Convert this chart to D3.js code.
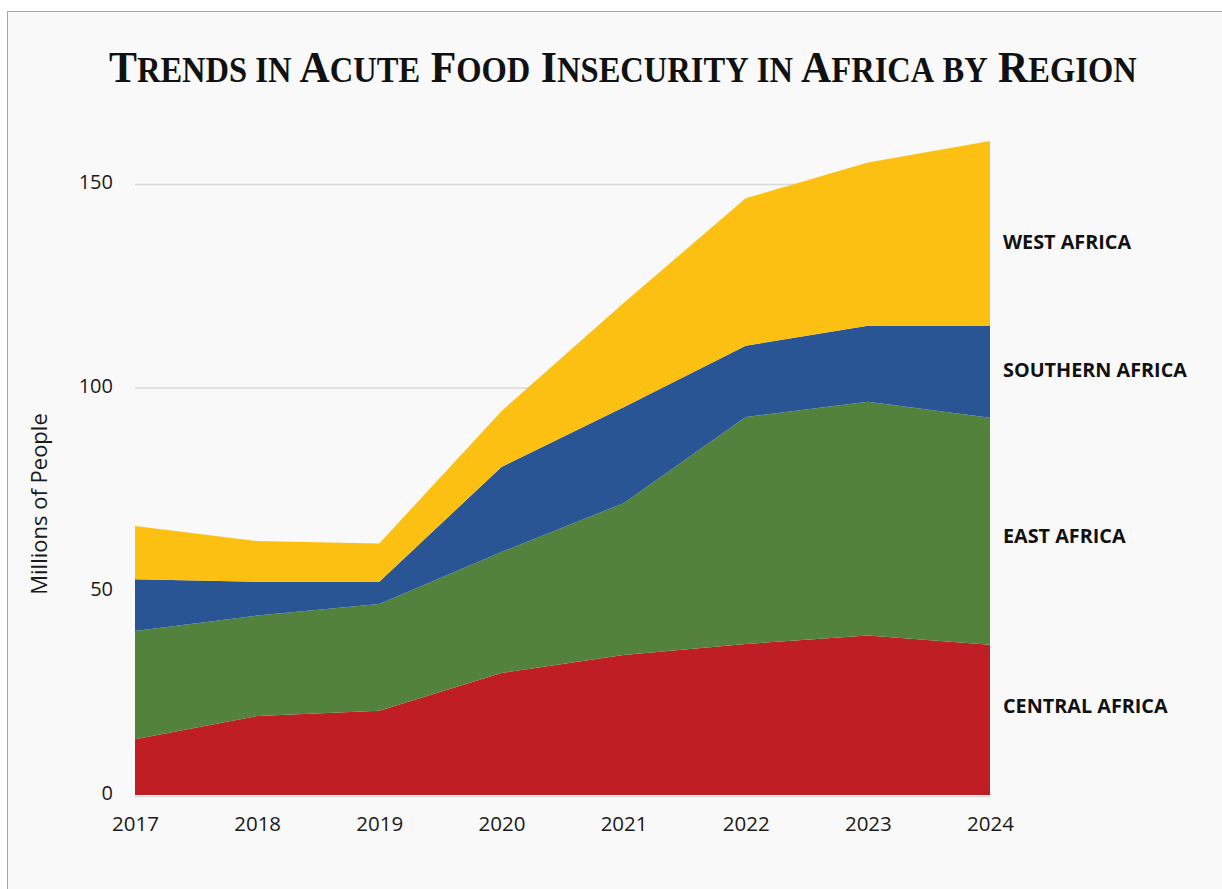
<!DOCTYPE html>
<html>
<head>
<meta charset="utf-8">
<script src="https://cdn.jsdelivr.net/npm/d3@7"></script>
<style>
  html, body { margin: 0; padding: 0; background: #ffffff; }
  svg { display: block; }
</style>
</head>
<body>
<svg id="chart" width="1222" height="889"></svg>
<script>
// Years on the x axis
const years = [2017, 2018, 2019, 2020, 2021, 2022, 2023, 2024];

// People in acute food insecurity, millions, by region (stacked bottom to top)
const centralAfrica  = [13.7, 19.4, 20.7, 30.0, 34.4, 37.1, 39.2, 36.9];
const eastAfrica     = [26.6, 24.7, 26.2, 29.7, 37.3, 55.8, 57.4, 55.8];
const southernAfrica = [12.7,  8.3,  5.5, 20.9, 23.6, 17.5, 18.7, 22.6];
const westAfrica     = [13.1, 10.0,  9.4, 13.7, 25.6, 36.2, 40.1, 45.4];

const regionNames = ["CENTRAL AFRICA", "EAST AFRICA", "SOUTHERN AFRICA", "WEST AFRICA"];
const yTicks = [0, 50, 100, 150];

// Table built from the arrays above for d3.stack
const keys = ["central", "east", "southern", "west"];
const table = years.map((yr, i) => ({
  year: yr,
  central: centralAfrica[i],
  east: eastAfrica[i],
  southern: southernAfrica[i],
  west: westAfrica[i]
}));

// Layout and styling
const colors = { central: "#BE1E24", east: "#52823C", southern: "#2A5594", west: "#FCC013" };
const plot = { left: 135, right: 990, top: 184.5, bottom: 795 };
const labelValues = { central: 21.8, east: 63.5, southern: 104.5, west: 135.8 };

const svg = d3.select("#chart");

// Panel background and frame
svg.append("rect")
  .attr("x", 7.5).attr("y", 11.5)
  .attr("width", 1240).attr("height", 900)
  .attr("fill", "#f9f9f9")
  .attr("stroke", "#a6a6a6").attr("stroke-width", 1);

const x = d3.scaleLinear()
  .domain([years[0], years[years.length - 1]])
  .range([plot.left, plot.right]);

const y = d3.scaleLinear()
  .domain([0, 150])
  .range([plot.bottom, plot.top]);

// Horizontal gridlines
svg.append("g")
  .selectAll("line")
  .data(yTicks)
  .join("line")
  .attr("x1", plot.left).attr("x2", plot.right)
  .attr("y1", d => y(d) + (d === 0 ? 1.5 : 0))
  .attr("y2", d => y(d) + (d === 0 ? 1.5 : 0))
  .attr("stroke", "#d9d9d9")
  .attr("stroke-width", 1.5);

// Stacked areas
const series = d3.stack().keys(keys)(table);
const area = d3.area()
  .x(d => x(d.data.year))
  .y0(d => y(d[0]))
  .y1(d => y(d[1]));

svg.append("g")
  .selectAll("path")
  .data(series)
  .join("path")
  .attr("d", area)
  .attr("fill", d => colors[d.key]);

// Y axis tick labels
const yAxis = d3.axisLeft(y).tickValues(yTicks).tickSize(0).tickPadding(0);
const gy = svg.append("g")
  .attr("transform", `translate(${113},0)`)
  .call(yAxis);
gy.select(".domain").remove();
gy.selectAll("text")
  .attr("font-family", "'Open Sans', sans-serif")
  .attr("font-size", 20)
  .attr("fill", "#1a1a1a")
  .attr("dy", "0.3em")
  .attr("y", -2);

// X axis year labels
const xAxis = d3.axisBottom(x).tickValues(years).tickFormat(d3.format("d")).tickSize(0).tickPadding(0);
const gx = svg.append("g")
  .attr("transform", `translate(0,${816})`)
  .call(xAxis);
gx.select(".domain").remove();
gx.selectAll("text")
  .attr("font-family", "'Open Sans', sans-serif")
  .attr("font-size", 20.5)
  .attr("fill", "#1a1a1a")
  .attr("dy", "0.71em");

// Y axis title
svg.append("text")
  .attr("transform", "translate(47,504) rotate(-90)")
  .attr("text-anchor", "middle")
  .attr("font-family", "'Open Sans', sans-serif")
  .attr("font-size", 22)
  .attr("fill", "#1a1a1a")
  .text("Millions of People");

// Region labels to the right of the areas
svg.append("g")
  .selectAll("text")
  .data(keys)
  .join("text")
  .attr("x", 1003)
  .attr("y", k => y(labelValues[k]))
  .attr("dy", "0.35em")
  .attr("font-family", "'Open Sans', sans-serif")
  .attr("font-weight", 700)
  .attr("font-size", 19.8)
  .attr("fill", "#111111")
  .text((k, i) => regionNames[i]);

// Title in small capitals, fitted horizontally to its span
const titleWords = ["Trends", "in", "Acute", "Food", "Insecurity", "in", "Africa", "by", "Region"];
const titleLeft = 109, titleWidth = 1025, titleBaseline = 82;
const titleG = svg.append("g");
const title = titleG.append("text")
  .attr("x", 0)
  .attr("y", 0)
  .attr("font-family", "'Liberation Serif', 'Times New Roman', serif")
  .attr("font-weight", 700)
  .attr("fill", "#111111");

titleWords.forEach((w, i) => {
  const first = w[0];
  const isCap = first === first.toUpperCase();
  const lead = (i > 0 ? " " : "");
  if (isCap) {
    title.append("tspan").attr("font-size", 45).text(lead + first);
    title.append("tspan").attr("font-size", 35).text(w.slice(1).toUpperCase());
  } else {
    title.append("tspan").attr("font-size", 35).text(lead + w.toUpperCase());
  }
});
const natural = title.node().getComputedTextLength();
titleG.attr("transform", `translate(${titleLeft},${titleBaseline}) scale(${titleWidth / natural},1)`);
</script>
</body>
</html>
